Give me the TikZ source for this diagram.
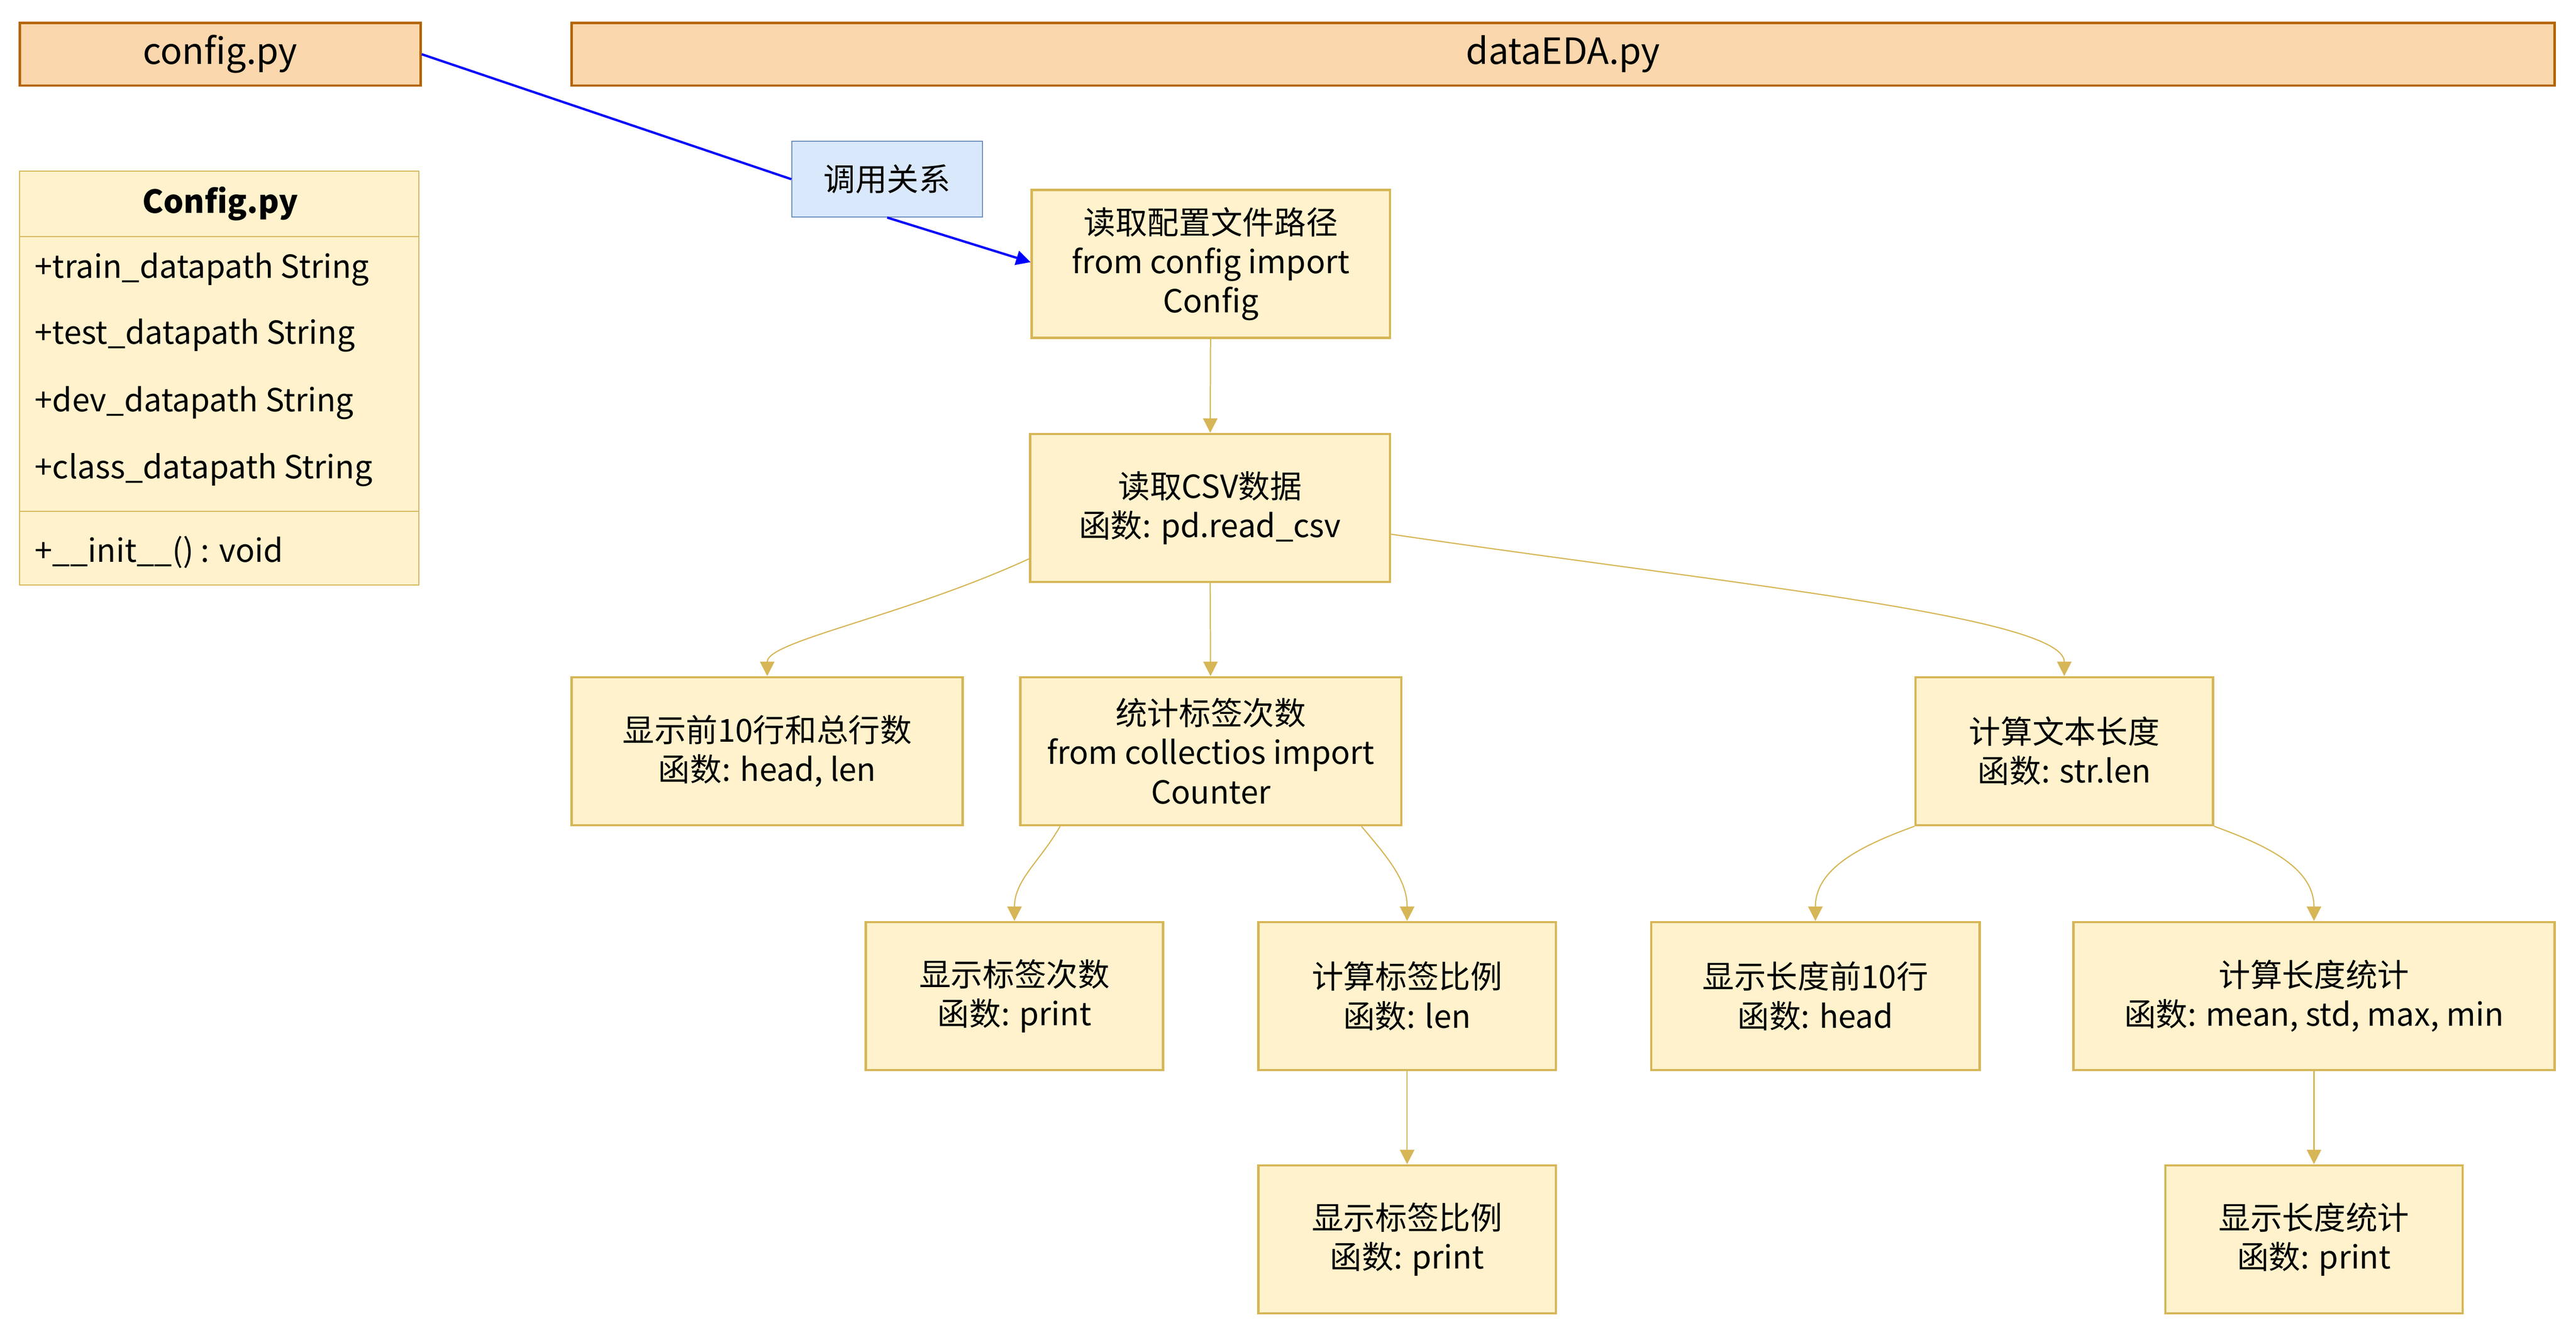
\documentclass[tikz,border=0pt]{standalone}
\usepackage{fontspec}
\setmainfont{Noto Sans CJK SC}
\usetikzlibrary{arrows.meta}
\definecolor{peachfill}{HTML}{FAD7AC}
\definecolor{peachline}{HTML}{B46504}
\definecolor{notefill}{HTML}{FFF2CC}
\definecolor{noteline}{HTML}{D6B656}
\definecolor{bluefill}{HTML}{DAE8FC}
\definecolor{blueline}{HTML}{6C8EBF}
\tikzset{
  txt/.style={font=\fontsize{11}{13.6}\selectfont},
  file/.style={font=\fontsize{12.5}{15}\selectfont, draw=peachline, fill=peachfill, thick, minimum height=0.76cm, inner sep=0pt},
  stepbox/.style={txt, draw=noteline, fill=notefill, thick, minimum height=1.8cm, align=center, inner sep=0pt},
  flow/.style={noteline, -{Triangle[width=5pt,length=5pt]}},
}
\begin{document}
\begin{tikzpicture}
\useasboundingbox (0,0) rectangle (31.36,-16.24);
% file headers
\node[file, minimum width=4.88cm] (cfgfile) at (2.68,-0.66) {config.py};
\node[file, minimum width=24.14cm] (edafile) at (19.03,-0.66) {dataEDA.py};
% class box
\draw[noteline, fill=notefill] (0.24,-2.08) rectangle (5.1,-7.12);
\draw[noteline] (0.24,-2.88) -- (5.1,-2.88);
\draw[noteline] (0.24,-6.22) -- (5.1,-6.22);
\node[txt, font=\fontsize{11}{13.6}\selectfont\bfseries] (cls) at (2.68,-2.48) {Config.py};
\node[txt, anchor=west] (f1) at (0.3,-3.28) {+train\_datapath String};
\node[txt, anchor=west] (f2) at (0.3,-4.08) {+test\_datapath String};
\node[txt, anchor=west] (f3) at (0.3,-4.9) {+dev\_datapath String};
\node[txt, anchor=west] (f4) at (0.3,-5.72) {+class\_datapath String};
\node[txt, anchor=west] (f5) at (0.3,-6.72) {+\_\_init\_\_() : void};
% steps
\node[stepbox, minimum width=4.36cm] (readcfg) at (14.74,-3.21) {读取配置文件路径\\from config import\\Config};
\node[stepbox, minimum width=4.38cm] (readcsv) at (14.73,-6.18) {读取CSV数据\\函数: pd.read\_csv};
\node[stepbox, minimum width=4.76cm] (head) at (9.34,-9.14) {显示前10行和总行数\\函数: head, len};
\node[stepbox, minimum width=4.64cm] (count) at (14.74,-9.14) {统计标签次数\\from collectios import\\Counter};
\node[stepbox, minimum width=3.62cm] (textlen) at (25.13,-9.14) {计算文本长度\\函数: str.len};
\node[stepbox, minimum width=3.62cm] (showcnt) at (12.35,-12.12) {显示标签次数\\函数: print};
\node[stepbox, minimum width=3.62cm] (ratio) at (17.13,-12.12) {计算标签比例\\函数: len};
\node[stepbox, minimum width=4.0cm] (lenhead) at (22.1,-12.12) {显示长度前10行\\函数: head};
\node[stepbox, minimum width=5.86cm] (lenstat) at (28.17,-12.12) {计算长度统计\\函数: mean, std, max, min};
\node[stepbox, minimum width=3.62cm] (showratio) at (17.13,-15.08) {显示标签比例\\函数: print};
\node[stepbox, minimum width=3.62cm] (showstat) at (28.17,-15.08) {显示长度统计\\函数: print};
% call relation
\node[txt, draw=blueline, fill=bluefill, minimum width=2.32cm, minimum height=0.92cm, inner sep=0pt] (call) at (10.8,-2.18) {调用关系};
\draw[blue, thick] (cfgfile.east) -- (call.west);
\draw[blue, thick, -{Triangle[width=5pt,length=5pt]}] (call.south) -- ([yshift=0.02cm]readcfg.west);
% flow
\draw[flow] (readcsv.west |- 0,-6.8) .. controls (11,-7.5) and (9.34,-7.8) .. (head.north);
\draw[flow] (readcsv.east |- 0,-6.5) .. controls (21,-7.1) and (25.13,-7.5) .. (textlen.north);
\draw[flow] (readcfg) -- (readcsv);
\draw[flow] (readcsv) -- (count);
\draw[flow] ([xshift=0.5cm]count.south west) to[out=240, in=90] (showcnt.north);
\draw[flow] ([xshift=-0.5cm]count.south east) to[out=-50, in=90] (ratio.north);
\draw[flow] (textlen.south west) to[out=200, in=90] (lenhead.north);
\draw[flow] (textlen.south east) to[out=-20, in=90] (lenstat.north);
\draw[flow] (ratio) -- (showratio);
\draw[flow] (lenstat) -- (showstat);
\end{tikzpicture}
\end{document}
